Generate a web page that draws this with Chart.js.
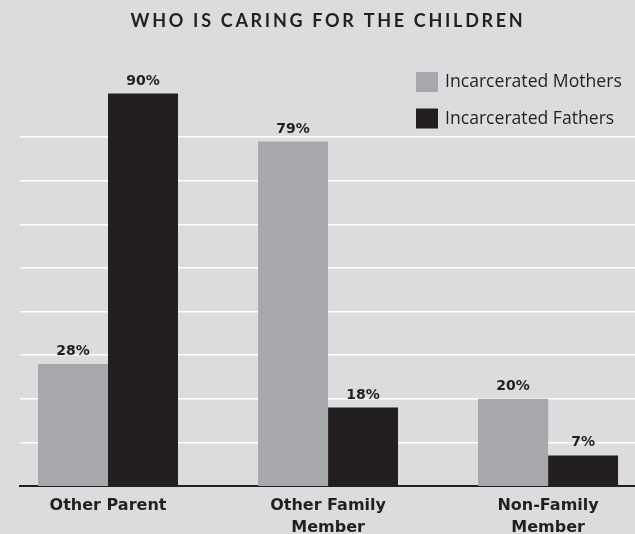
<!DOCTYPE html>
<html>
<head>
<meta charset="utf-8">
<script src="https://cdn.jsdelivr.net/npm/chart.js@4"></script>
<style>
  html, body { margin: 0; padding: 0; background: #dcdcde; }
  canvas { display: block; }
</style>
</head>
<body>
<canvas id="caringChart" width="635" height="534"></canvas>
<script>
// Chart data
const chartTitle = 'WHO IS CARING FOR THE CHILDREN';
const categories = [['Other Parent'], ['Other Family', 'Member'], ['Non-Family', 'Member']];
const seriesNames = ['Incarcerated Mothers', 'Incarcerated Fathers'];
const mothersValues = [28, 79, 20];
const fathersValues = [90, 18, 7];
const gridValues = [10, 20, 30, 40, 50, 60, 70, 80];

const MOTHERS_COLOR = '#a7a8ab';
const FATHERS_COLOR = '#231f20';
const TEXT_COLOR = '#231f20';

document.addEventListener('DOMContentLoaded', function() {
    // Title with letter spacing
    const titlePlugin = {
        id: 'spacedTitle',
        afterDraw(chart) {
            const ctx = chart.ctx;
            ctx.save();
            ctx.font = 'bold 18px Lato';
            ctx.fillStyle = TEXT_COLOR;
            ctx.textAlign = 'center';
            ctx.textBaseline = 'middle';
            if ('letterSpacing' in ctx) ctx.letterSpacing = '2.7px';
            ctx.fillText(chartTitle, 328, 21);
            ctx.restore();
        }
    };

    // Legend drawn inside the plot, top right
    const legendPlugin = {
        id: 'cornerLegend',
        afterDraw(chart) {
            const ctx = chart.ctx;
            ctx.save();
            ctx.font = '17.6px "Open Sans"';
            ctx.textBaseline = 'alphabetic';
            chart.data.datasets.forEach((ds, i) => {
                const y = 72 + i * 36.5;
                ctx.fillStyle = ds.backgroundColor;
                ctx.fillRect(416, y, 22, 20);
                ctx.fillStyle = TEXT_COLOR;
                ctx.fillText(ds.label, 445, y + 15);
            });
            ctx.restore();
        }
    };

    // Value labels above bars
    const valueLabels = {
        id: 'valueLabels',
        afterDatasetsDraw(chart) {
            const ctx = chart.ctx;
            ctx.save();
            ctx.font = 'bold 14px "DejaVu Sans"';
            ctx.fillStyle = TEXT_COLOR;
            ctx.textAlign = 'center';
            ctx.textBaseline = 'alphabetic';
            chart.data.datasets.forEach((ds, i) => {
                chart.getDatasetMeta(i).data.forEach((bar, j) => {
                    ctx.fillText(ds.data[j].y + '%', bar.x, bar.y - 9);
                });
            });
            ctx.restore();
        }
    };

    const ctx = document.getElementById('caringChart').getContext('2d');
    new Chart(ctx, {
        type: 'bar',
        data: {
            datasets: [{
                label: seriesNames[0],
                data: mothersValues.map((v, i) => ({ x: i, y: v })),
                backgroundColor: MOTHERS_COLOR
            }, {
                label: seriesNames[1],
                data: fathersValues.map((v, i) => ({ x: i, y: v })),
                backgroundColor: FATHERS_COLOR
            }]
        },
        options: {
            responsive: false,
            animation: false,
            layout: {
                padding: { left: 20, right: 0, top: 50, bottom: 0 }
            },
            datasets: {
                bar: {
                    categoryPercentage: 0.636,
                    barPercentage: 1,
                    borderWidth: 0
                }
            },
            scales: {
                x: {
                    type: 'linear',
                    offset: false,
                    min: -0.4,
                    max: 2.395,
                    afterBuildTicks: (scale) => {
                        scale.ticks = categories.map((c, i) => ({ value: i }));
                    },
                    afterFit: (scale) => { scale.height = 48; },
                    grid: { display: false },
                    border: { color: '#231f20', width: 2 },
                    ticks: {
                        autoSkip: false,
                        maxRotation: 0,
                        padding: 1,
                        color: TEXT_COLOR,
                        font: { family: 'DejaVu Sans', size: 16, weight: 'bold', lineHeight: '22px' },
                        callback: (value) => categories[value]
                    }
                },
                y: {
                    min: 0,
                    max: 100,
                    afterBuildTicks: (scale) => {
                        scale.ticks = gridValues.map(v => ({ value: v }));
                    },
                    afterFit: (scale) => { scale.width = 0; },
                    border: { display: false },
                    grid: { color: '#ffffff', lineWidth: 1.5, drawTicks: false },
                    ticks: { display: false }
                }
            },
            plugins: {
                legend: { display: false },
                tooltip: { enabled: false }
            }
        },
        plugins: [valueLabels, legendPlugin, titlePlugin]
    });
});
</script>
</body>
</html>
